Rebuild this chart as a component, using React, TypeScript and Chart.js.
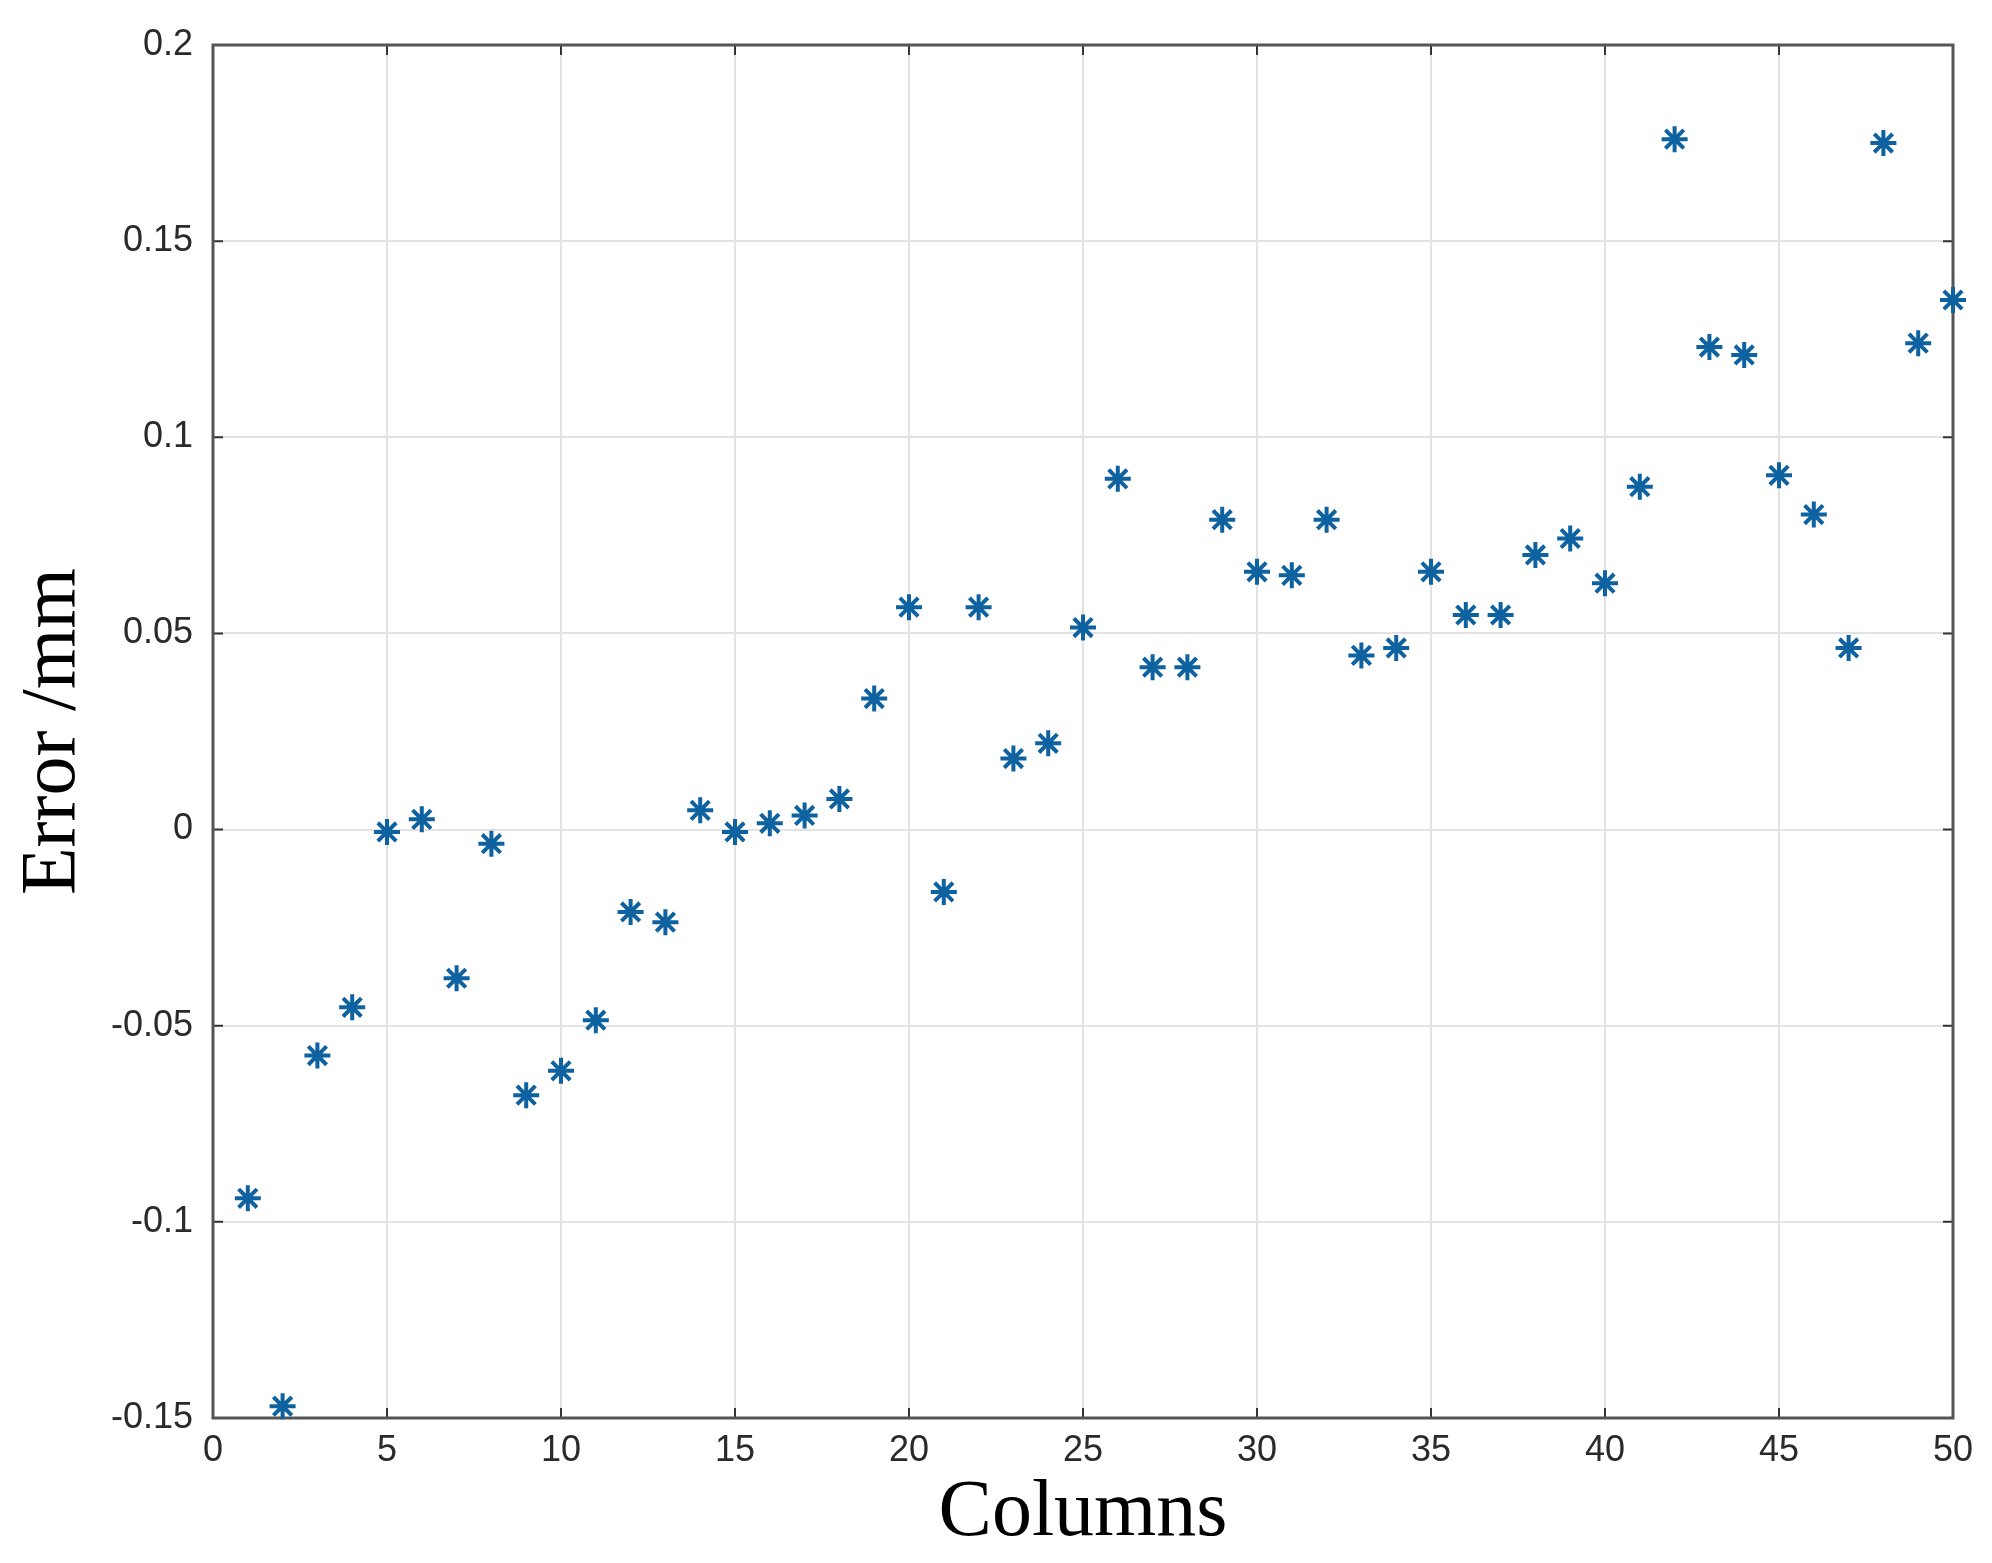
import React, { useEffect, useRef } from "react";
import { Chart, registerables } from "chart.js";

Chart.register(...registerables);

const columns = [
  1, 2, 3, 4, 5, 6, 7, 8, 9, 10, 11, 12, 13, 14, 15, 16, 17, 18, 19, 20, 21, 22, 23, 24, 25,
  26, 27, 28, 29, 30, 31, 32, 33, 34, 35, 36, 37, 38, 39, 40, 41, 42, 43, 44, 45, 46, 47, 48, 49, 50,
];
const errors = [
  -0.094, -0.147, -0.0576, -0.0453, -0.0006, 0.0026, -0.0379, -0.0036, -0.0677, -0.0615,
  -0.0486, -0.021, -0.0236, 0.0049, -0.0006, 0.0016, 0.0036, 0.0078, 0.0334, 0.0567,
  -0.0159, 0.0567, 0.0181, 0.022, 0.0515, 0.0894, 0.0414, 0.0414, 0.079, 0.0657,
  0.0648, 0.079, 0.0444, 0.0463, 0.0657, 0.0547, 0.0547, 0.07, 0.0742, 0.0628,
  0.0874, 0.176, 0.123, 0.121, 0.0903, 0.0803, 0.0463, 0.175, 0.124, 0.135,
];
const xTickValues = [0, 5, 10, 15, 20, 25, 30, 35, 40, 45, 50];
const yTickValues = [-0.15, -0.1, -0.05, 0, 0.05, 0.1, 0.15, 0.2];
const yTickLabels = ["-0.15", "-0.1", "-0.05", "0", "0.05", "0.1", "0.15", "0.2"];
const xTitle = "Columns";
const yTitle = "Error /mm";

const boxPlugin = {
  id: "matlabBox",
  beforeDatasetsDraw(chart: any) {
    const { ctx, chartArea: a, scales } = chart;
    ctx.save();
    ctx.strokeStyle = "#333";
    ctx.lineWidth = 2;
    const tl = 10;
    ctx.beginPath();
    for (const v of xTickValues) {
      const px = scales.x.getPixelForValue(v);
      ctx.moveTo(px, a.bottom);
      ctx.lineTo(px, a.bottom - tl);
      ctx.moveTo(px, a.top);
      ctx.lineTo(px, a.top + tl);
    }
    for (const v of yTickValues) {
      const py = scales.y.getPixelForValue(v);
      ctx.moveTo(a.left, py);
      ctx.lineTo(a.left + tl, py);
      ctx.moveTo(a.right, py);
      ctx.lineTo(a.right - tl, py);
    }
    ctx.stroke();
    ctx.strokeStyle = "#555";
    ctx.lineWidth = 3;
    ctx.strokeRect(a.left, a.top, a.right - a.left, a.bottom - a.top);
    ctx.restore();
  },
};

export default function App() {
  const ref = useRef<HTMLCanvasElement>(null);
  useEffect(() => {
    if (!ref.current) return;
    const chart = new Chart(ref.current, {
      type: "scatter",
      data: {
        datasets: [
          {
            data: columns.map((c, i) => ({ x: c, y: errors[i] })),
            pointStyle: "star",
            radius: 13,
            borderWidth: 4,
            borderColor: "#0e62a0",
            backgroundColor: "#0e62a0",
            clip: false,
          } as any,
        ],
      },
      options: {
        animation: false,
        responsive: true,
        maintainAspectRatio: false,
        layout: { padding: { top: 45, right: 39, left: 0, bottom: 0 } },
        plugins: { legend: { display: false }, tooltip: { enabled: false } },
        scales: {
          x: {
            type: "linear",
            min: 0,
            max: 50,
            afterFit(scale: any) {
              scale.height = 145;
            },
            afterBuildTicks(scale: any) {
              scale.ticks = xTickValues.map((v) => ({ value: v }));
            },
            ticks: {
              padding: 11,
              color: "#2a2a2a",
              font: { family: "Liberation Sans", size: 36 },
              maxRotation: 0,
              callback: (v: any) => String(v),
            },
            grid: { color: "#e2e2e2", lineWidth: 2, drawTicks: false },
            border: { display: false },
            title: {
              display: true,
              text: xTitle,
              color: "#000",
              font: { family: "Liberation Serif", size: 80 },
              padding: { top: 0, bottom: 1 },
            },
          },
          y: {
            type: "linear",
            min: -0.15,
            max: 0.2,
            afterFit(scale: any) {
              scale.width = 213;
            },
            afterBuildTicks(scale: any) {
              scale.ticks = yTickValues.map((v) => ({ value: v }));
            },
            ticks: {
              padding: 20,
              color: "#2a2a2a",
              font: { family: "Liberation Sans", size: 36 },
              callback: (v: any) => {
                const i = yTickValues.findIndex((t) => Math.abs(t - v) < 1e-9);
                return i >= 0 ? yTickLabels[i] : "";
              },
            },
            grid: { color: "#e2e2e2", lineWidth: 2, drawTicks: false },
            border: { display: false },
            title: {
              display: true,
              text: yTitle,
              color: "#000",
              font: { family: "Liberation Serif", size: 78 },
              padding: { top: 7, bottom: 0 },
            },
          },
        },
      },
      plugins: [boxPlugin],
    });
    return () => chart.destroy();
  }, []);
  return (
    <div style={{ position: "fixed", left: 0, top: 0, width: 1992, height: 1563, background: "#fff" }}>
      <canvas ref={ref} />
    </div>
  );
}
